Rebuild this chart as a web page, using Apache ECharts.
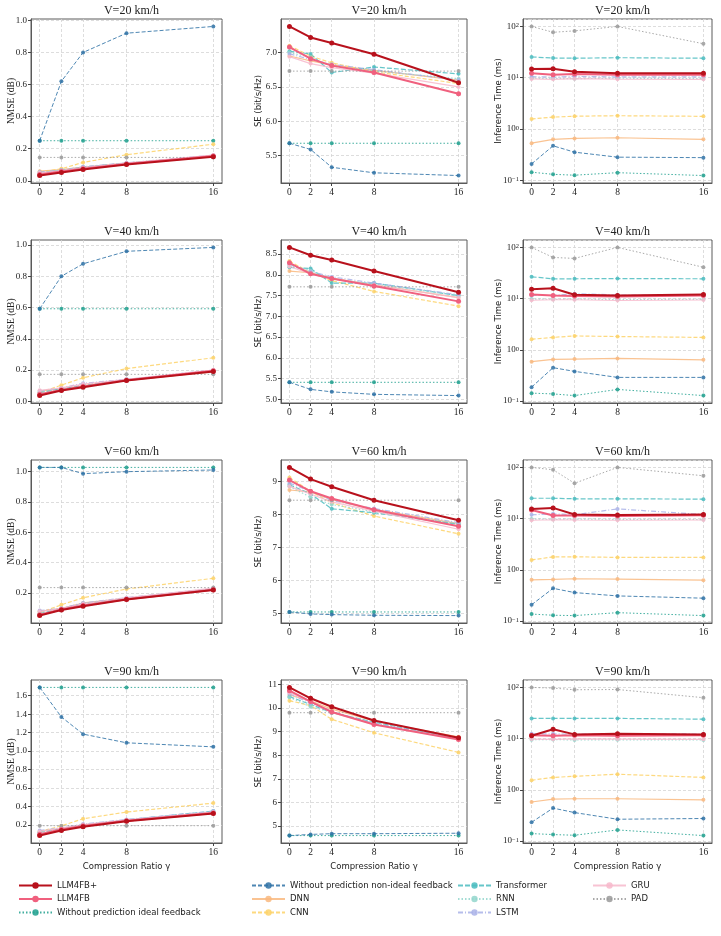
<!DOCTYPE html>
<html>
<head>
<meta charset="utf-8">
<script src="https://cdn.jsdelivr.net/npm/echarts@6/dist/echarts.min.js"></script>
<style>
  html, body { margin: 0; padding: 0; background: #fff; }
  #main { width: 721px; height: 936px; }
</style>
</head>
<body>
<div id="main"></div>
<script>
var ratios = [0, 2, 4, 8, 16];
var speedTitles = ['V=20 km/h', 'V=40 km/h', 'V=60 km/h', 'V=90 km/h'];
var methods = ['LLM4FB+', 'LLM4FB', 'Without prediction ideal feedback', 'Without prediction non-ideal feedback',
  'DNN', 'CNN', 'Transformer', 'RNN', 'LSTM', 'GRU', 'PAD'];

// each table: one row per method, in the order of `methods`
var nmse20 = [
  [0.033, 0.052, 0.070, 0.102, 0.150],
  [0.040, 0.058, 0.075, 0.105, 0.155],
  [0.250, 0.250, 0.250, 0.250, 0.250],
  [0.250, 0.620, 0.800, 0.920, 0.962],
  [0.060, 0.070, 0.085, 0.110, 0.155],
  [0.055, 0.075, 0.115, 0.163, 0.228],
  [0.050, 0.065, 0.085, 0.110, 0.155],
  [0.045, 0.060, 0.080, 0.108, 0.152],
  [0.055, 0.068, 0.088, 0.112, 0.160],
  [0.050, 0.062, 0.082, 0.110, 0.160],
  [0.146, 0.146, 0.146, 0.146, 0.146]
];
var se20 = [
  [7.38, 7.22, 7.14, 6.975, 6.56],
  [7.08, 6.91, 6.81, 6.71, 6.40],
  [5.68, 5.68, 5.68, 5.68, 5.68],
  [5.68, 5.59, 5.33, 5.25, 5.21],
  [6.95, 6.88, 6.82, 6.74, 6.60],
  [7.10, 6.95, 6.85, 6.72, 6.55],
  [7.02, 6.98, 6.71, 6.79, 6.69],
  [7.00, 6.93, 6.80, 6.73, 6.62],
  [6.98, 6.90, 6.83, 6.75, 6.60],
  [6.94, 6.84, 6.78, 6.70, 6.50],
  [6.73, 6.73, 6.73, 6.73, 6.73]
];
var time20 = [
  [14.8, 15.0, 13.1, 12.2, 12.2],
  [12.2, 11.5, 11.8, 11.5, 11.5],
  [0.144, 0.131, 0.126, 0.141, 0.124],
  [0.209, 0.471, 0.354, 0.283, 0.277],
  [0.53, 0.63, 0.656, 0.676, 0.63],
  [1.57, 1.71, 1.78, 1.82, 1.77],
  [25.4, 24.3, 24.0, 24.6, 24.0],
  [9.8, 9.7, 9.6, 9.8, 9.6],
  [10.5, 10.3, 10.6, 10.4, 10.4],
  [9.5, 9.3, 9.6, 9.4, 9.3],
  [100, 77, 82, 100, 46]
];
var nmse40 = [
  [0.036, 0.068, 0.090, 0.132, 0.190],
  [0.045, 0.072, 0.095, 0.135, 0.195],
  [0.592, 0.592, 0.592, 0.592, 0.592],
  [0.592, 0.800, 0.880, 0.960, 0.985],
  [0.065, 0.080, 0.100, 0.135, 0.188],
  [0.055, 0.103, 0.150, 0.209, 0.278],
  [0.055, 0.080, 0.100, 0.138, 0.190],
  [0.060, 0.078, 0.105, 0.140, 0.192],
  [0.065, 0.085, 0.115, 0.140, 0.200],
  [0.070, 0.085, 0.110, 0.140, 0.200],
  [0.172, 0.172, 0.172, 0.172, 0.172]
];
var se40 = [
  [8.66, 8.47, 8.355, 8.09, 7.58],
  [8.29, 8.025, 7.91, 7.73, 7.36],
  [5.41, 5.41, 5.41, 5.41, 5.41],
  [5.41, 5.24, 5.18, 5.12, 5.09],
  [8.09, 8.05, 7.92, 7.76, 7.45],
  [8.33, 8.05, 7.86, 7.60, 7.245],
  [8.18, 8.15, 7.80, 7.80, 7.50],
  [8.22, 8.10, 7.90, 7.78, 7.50],
  [8.25, 8.08, 7.95, 7.80, 7.52],
  [8.20, 8.02, 7.90, 7.75, 7.45],
  [7.71, 7.71, 7.71, 7.71, 7.71]
];
var time40 = [
  [15.3, 16.0, 11.9, 11.5, 12.0],
  [12.0, 11.5, 11.3, 11.0, 11.5],
  [0.143, 0.138, 0.128, 0.169, 0.128],
  [0.187, 0.449, 0.38, 0.29, 0.29],
  [0.587, 0.65, 0.66, 0.68, 0.64],
  [1.61, 1.75, 1.87, 1.82, 1.75],
  [26.7, 24.4, 24.4, 24.7, 24.4],
  [9.8, 9.7, 9.8, 9.6, 9.7],
  [11.5, 11.5, 12.5, 11.8, 11.5],
  [9.3, 9.5, 9.5, 9.2, 9.4],
  [100, 63.7, 61, 100, 41]
];
var nmse60 = [
  [0.052, 0.089, 0.114, 0.158, 0.220],
  [0.058, 0.092, 0.118, 0.160, 0.222],
  [1.026, 1.026, 1.026, 1.026, 1.026],
  [1.026, 1.026, 0.985, 0.998, 1.009],
  [0.080, 0.100, 0.135, 0.165, 0.225],
  [0.070, 0.123, 0.169, 0.227, 0.297],
  [0.065, 0.095, 0.130, 0.165, 0.225],
  [0.075, 0.100, 0.130, 0.165, 0.228],
  [0.085, 0.100, 0.135, 0.170, 0.230],
  [0.080, 0.098, 0.130, 0.168, 0.232],
  [0.236, 0.236, 0.236, 0.236, 0.236]
];
var se60 = [
  [9.425, 9.07, 8.84, 8.43, 7.825],
  [9.04, 8.70, 8.48, 8.14, 7.64],
  [5.04, 5.04, 5.04, 5.04, 5.04],
  [5.04, 4.98, 4.96, 4.94, 4.93],
  [8.74, 8.68, 8.45, 8.15, 7.72],
  [9.12, 8.70, 8.35, 7.95, 7.41],
  [8.90, 8.62, 8.17, 8.05, 7.70],
  [8.85, 8.52, 8.30, 8.08, 7.72],
  [8.95, 8.70, 8.42, 8.18, 7.75],
  [8.85, 8.62, 8.38, 8.10, 7.55],
  [8.43, 8.43, 8.43, 8.43, 8.43]
];
var time60 = [
  [15.5, 16.2, 12.0, 11.8, 12.0],
  [14.8, 11.5, 11.5, 11.3, 11.6],
  [0.137, 0.130, 0.128, 0.146, 0.128],
  [0.208, 0.436, 0.36, 0.31, 0.28],
  [0.64, 0.65, 0.67, 0.66, 0.63],
  [1.56, 1.79, 1.80, 1.75, 1.75],
  [25.0, 25.0, 24.4, 24.4, 24.0],
  [9.8, 9.7, 9.8, 9.7, 9.6],
  [11.9, 12.4, 11.9, 15.5, 12.0],
  [9.3, 9.5, 9.4, 9.3, 9.4],
  [100, 90, 49, 100, 68.7]
];
var nmse90 = [
  [0.085, 0.140, 0.180, 0.240, 0.325],
  [0.100, 0.150, 0.190, 0.245, 0.330],
  [1.690, 1.690, 1.690, 1.690, 1.690],
  [1.690, 1.370, 1.184, 1.090, 1.046],
  [0.130, 0.160, 0.200, 0.250, 0.340],
  [0.130, 0.190, 0.267, 0.340, 0.437],
  [0.120, 0.160, 0.200, 0.255, 0.350],
  [0.120, 0.160, 0.200, 0.255, 0.345],
  [0.140, 0.170, 0.210, 0.260, 0.350],
  [0.130, 0.165, 0.205, 0.255, 0.340],
  [0.192, 0.192, 0.192, 0.192, 0.192]
];
var se90 = [
  [10.87, 10.41, 10.05, 9.47, 8.74],
  [10.73, 10.27, 9.83, 9.30, 8.67],
  [4.60, 4.60, 4.60, 4.60, 4.60],
  [4.60, 4.65, 4.68, 4.68, 4.70],
  [10.55, 10.30, 9.95, 9.45, 8.78],
  [10.31, 10.10, 9.52, 8.95, 8.12],
  [10.48, 10.15, 9.80, 9.40, 8.70],
  [10.45, 10.05, 9.82, 9.38, 8.72],
  [10.60, 10.20, 9.85, 9.35, 8.70],
  [10.65, 10.25, 9.82, 9.30, 8.68],
  [9.80, 9.80, 9.80, 9.80, 9.80]
];
var time90 = [
  [11.4, 15.3, 12.1, 12.4, 12.1],
  [11.7, 11.4, 11.7, 11.4, 11.7],
  [0.140, 0.134, 0.130, 0.165, 0.128],
  [0.233, 0.44, 0.36, 0.267, 0.276],
  [0.58, 0.66, 0.67, 0.67, 0.64],
  [1.54, 1.75, 1.84, 2.02, 1.75],
  [24.8, 24.8, 24.8, 24.8, 24.0],
  [9.5, 9.6, 9.4, 9.5, 9.4],
  [12.4, 12.4, 12.2, 12.5, 12.3],
  [9.8, 9.7, 9.9, 9.8, 9.7],
  [100, 97, 90, 91, 63]
];

var panels = [
  [nmse20, se20, time20],
  [nmse40, se40, time40],
  [nmse60, se60, time60],
  [nmse90, se90, time90]
];

// layout / styles
var colLeft = [31, 281, 523], colRight = [222, 467, 712];
var rowTop = [19, 240, 460, 680], rowBottom = [183, 403, 623, 843];
var seStep = [0.5, 0.5, 1, 1];
var serif = 'Liberation Serif', sans = 'DejaVu Sans';
var colors = ['#b8111c', '#f0607e', '#20a08e', '#2f72a6', '#f9b97f', '#fdd268',
  '#4bbcc0', '#93d6cc', '#a9b2e8', '#f7b8cb', '#9a9a9a'];
var dashes = ['solid', 'solid', [1.5, 2], [4, 2], 'solid', [4, 2], [5, 2], [1.5, 2], [5, 2, 1, 2], 'solid', [1.5, 2]];
var widths = [2, 2, 1, 1, 1.2, 1.2, 1.2, 1.2, 1.2, 1.2, 1];
var yNames = ['NMSE (dB)', 'SE (bit/s/Hz)', 'Inference Time (ms)'];
var yNameGap = [15, 18, 20];

function extentOf(rows, log) {
  var lo = Infinity, hi = -Infinity;
  rows.forEach(function (r) {
    r.forEach(function (v) {
      var t = log ? Math.log10(v) : v;
      lo = Math.min(lo, t); hi = Math.max(hi, t);
    });
  });
  var pad = (hi - lo) * 0.05;
  return [lo - pad, hi + pad];
}
function ticksIn(ext, step) {
  var out = [];
  for (var k = Math.ceil(ext[0] / step - 1e-9); k * step <= ext[1] + 1e-9; k++) out.push(+(k * step).toFixed(6));
  return out;
}

var grids = [], xAxes = [], yAxes = [], series = [], titles = [];
var gridLine = { show: true, lineStyle: { color: '#d4d4d4', width: 0.8, type: [3, 2] } };

panels.forEach(function (row, r) {
  row.forEach(function (rows, c) {
    var idx = grids.length;
    grids.push({
      left: colLeft[c], top: rowTop[r],
      width: colRight[c] - colLeft[c], height: rowBottom[r] - rowTop[r],
      show: true, borderColor: '#5a5a5a', borderWidth: 1, backgroundColor: 'transparent'
    });
    titles.push({
      text: speedTitles[r], left: (colLeft[c] + colRight[c]) / 2, top: rowTop[r] - 19, textAlign: 'center',
      textStyle: { fontFamily: serif, fontSize: 12, fontWeight: 'normal', color: '#222' }
    });
    xAxes.push({
      gridIndex: idx, type: 'value', min: -0.8, max: 16.8,
      name: r === 3 ? 'Compression Ratio γ' : '', nameLocation: 'middle', nameGap: 19,
      nameTextStyle: { fontFamily: sans, fontSize: 8.5, color: '#222' },
      axisLine: { show: true, onZero: false, lineStyle: { color: '#5a5a5a' } },
      axisTick: { show: true, length: 3, customValues: ratios, lineStyle: { color: '#444' } },
      axisLabel: { customValues: ratios, fontFamily: serif, fontSize: 9.5, color: '#222', margin: 4 },
      splitLine: gridLine
    });
    var log = c === 2;
    var ext = extentOf(rows, log);
    var yAxis = {
      gridIndex: idx,
      name: yNames[c], nameLocation: 'middle', nameGap: yNameGap[c], nameMoveOverlap: false,
      nameTextStyle: { fontFamily: c === 0 ? serif : sans, fontSize: c === 0 ? 9.5 : 8.5, color: '#222' },
      axisLine: { show: true, onZero: false, lineStyle: { color: '#5a5a5a' } },
      splitLine: gridLine
    };
    if (log) {
      yAxis.type = 'log';
      yAxis.logBase = 10;
      yAxis.min = Math.pow(10, ext[0]);
      yAxis.max = Math.pow(10, ext[1]);
      yAxis.axisTick = { show: true, length: 3, lineStyle: { color: '#444' } };
      yAxis.axisLabel = {
        showMinLabel: false, showMaxLabel: false, margin: 4,
        fontFamily: serif, fontSize: 9, color: '#222',
        formatter: function (v) {
          var e = Math.round(Math.log10(v));
          if (Math.abs(Math.log10(v) - e) > 0.01) return '';
          return '10{s|' + (e < 0 ? '\u2212' + (-e) : e) + '}';
        },
        rich: { s: { fontFamily: serif, fontSize: 6.5, color: '#222', verticalAlign: 'top', lineHeight: 7 } }
      };
    } else {
      var step = c === 0 ? 0.2 : seStep[r];
      var ticks = ticksIn(ext, step);
      var dec = step < 1 ? 1 : 0;
      yAxis.type = 'value';
      yAxis.min = ext[0];
      yAxis.max = ext[1];
      yAxis.axisTick = { show: true, length: 3, customValues: ticks, lineStyle: { color: '#444' } };
      yAxis.axisLabel = {
        customValues: ticks, margin: 4, fontFamily: serif, fontSize: 9, color: '#222',
        formatter: function (v) { return (+v).toFixed(dec); }
      };
    }
    yAxes.push(yAxis);

    rows.forEach(function (vals, m) {
      series.push({
        type: 'line', name: methods[m], xAxisIndex: idx, yAxisIndex: idx,
        data: ratios.map(function (x, j) { return [x, vals[j]]; }),
        symbol: 'circle', symbolSize: m < 2 ? 5 : 4,
        lineStyle: { color: colors[m], width: widths[m], type: dashes[m], opacity: m < 2 ? 1 : 0.85 },
        itemStyle: { color: colors[m], opacity: m < 2 ? 1 : 0.85 },
        z: m === 0 ? 5 : (m === 1 ? 4 : 2),
        silent: true
      });
    });
  });
});

var legendText = { fontFamily: sans, fontSize: 8.5, color: '#222', lineHeight: 9 };
function legendCol(left, names) {
  return {
    orient: 'vertical', left: left, top: 881, padding: 0, data: names,
    itemWidth: 33, itemHeight: 8, itemGap: 4.5,
    textStyle: legendText, selectedMode: false
  };
}

var myChart = echarts.init(document.getElementById('main'));
var option = {
  animation: false,
  backgroundColor: '#fff',
  title: titles,
  grid: grids,
  xAxis: xAxes,
  yAxis: yAxes,
  series: series,
  legend: [
    legendCol(18, methods.slice(0, 3)),
    legendCol(251, methods.slice(3, 6)),
    legendCol(457, methods.slice(6, 9)),
    legendCol(592, methods.slice(9, 11))
  ]
};
myChart.setOption(option);

window.addEventListener('resize', function () {
  myChart.resize();
});
</script>
</body>
</html>
